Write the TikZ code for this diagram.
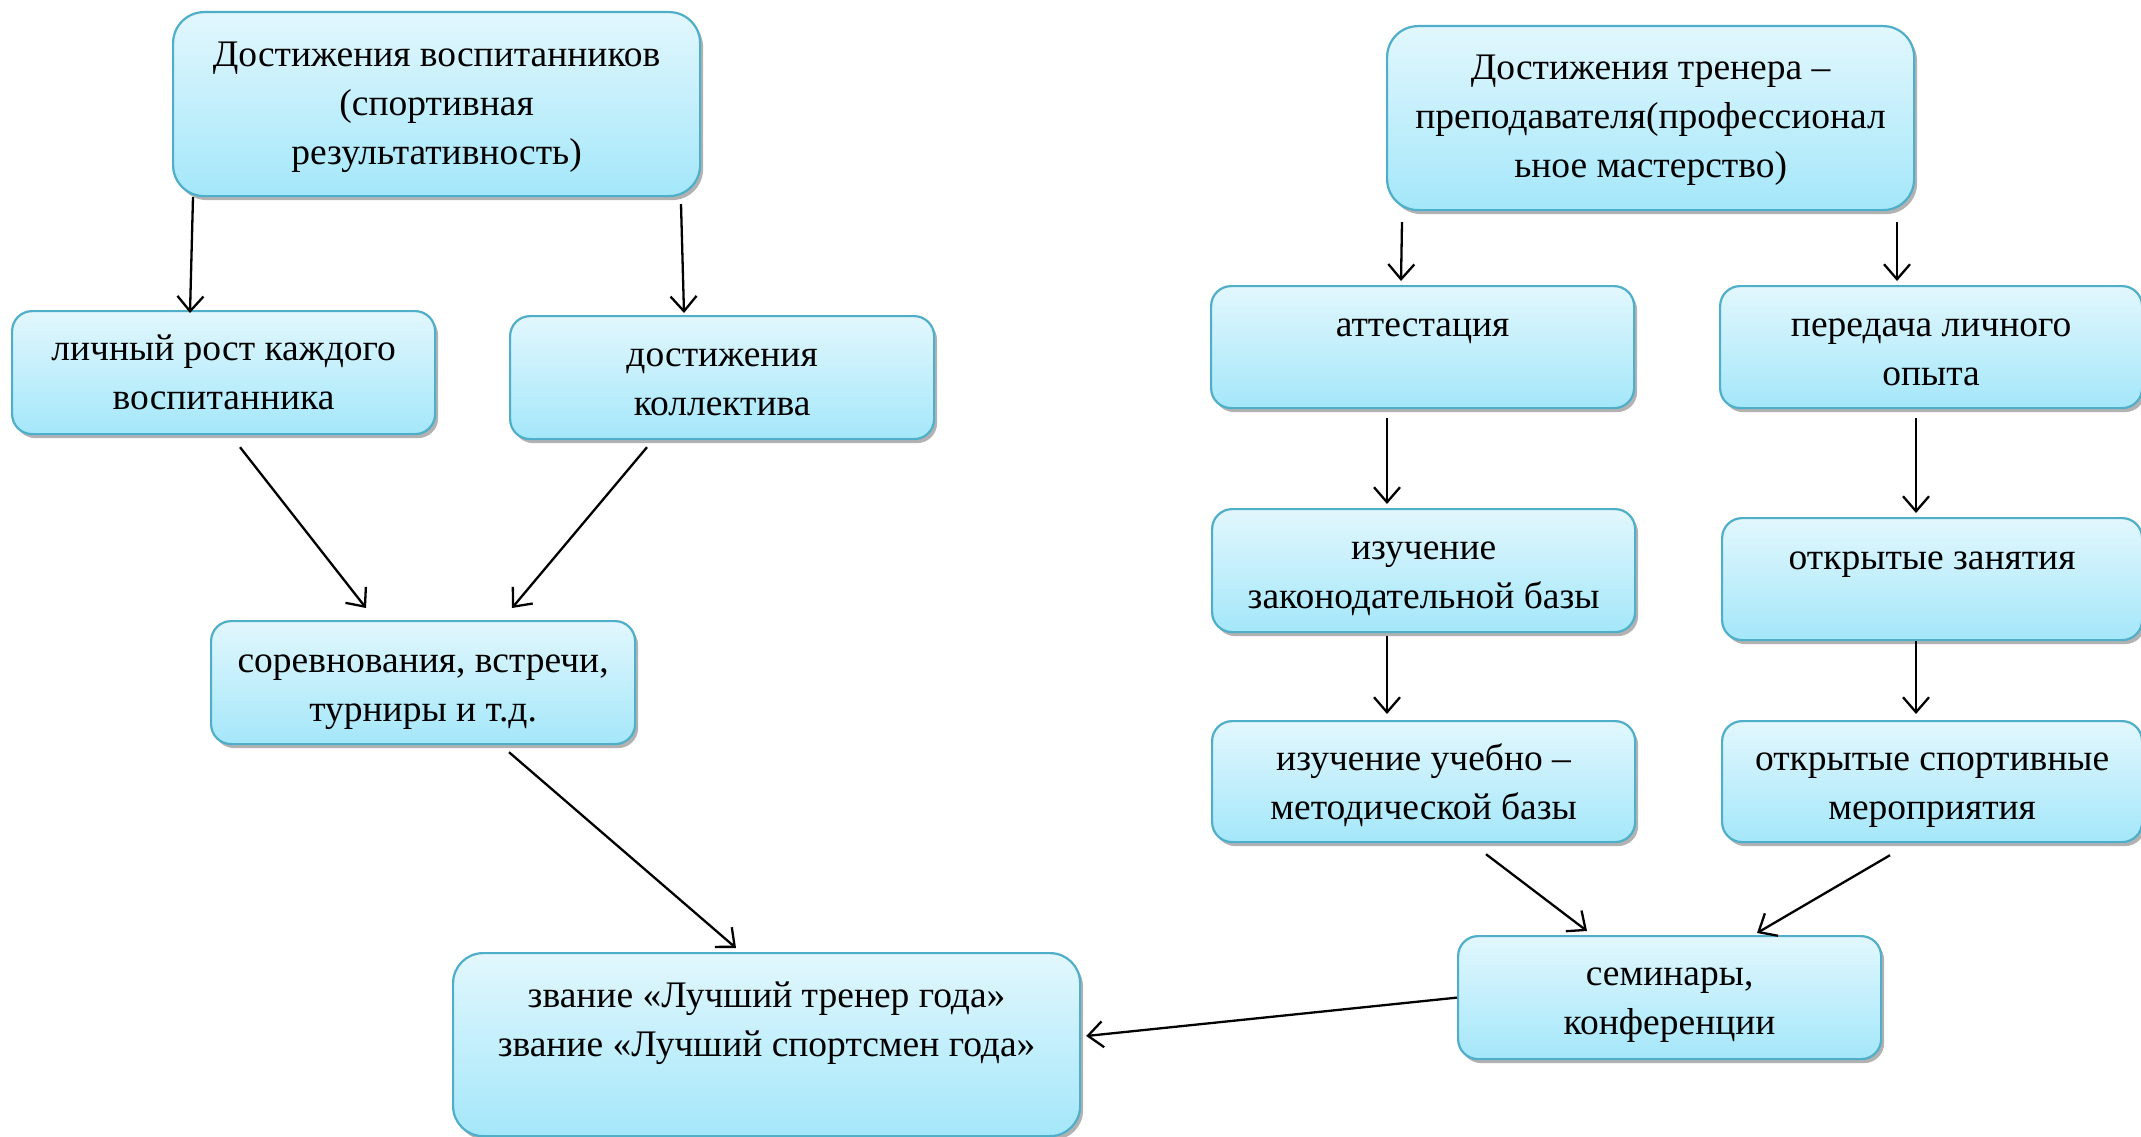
\documentclass[tikz,border=0pt]{standalone}
\usepackage{fontspec}
\setmainfont{Liberation Serif}
\usetikzlibrary{arrows.meta,shadows,calc}
\newcommand\boxtxt[4][50]{\parbox[c][#3pt][t]{#2pt}{\centering\rule{0pt}{#1pt}#4}}
\definecolor{bxtop}{HTML}{E2F7FD}
\definecolor{bxbot}{HTML}{A4E7FA}
\definecolor{bxline}{HTML}{4FAFC8}
\tikzset{
  bx/.style={anchor=north west, inner sep=0pt, draw=bxline, line width=2.2pt,
    rounded corners=#1pt, top color=bxtop, bottom color=bxbot,
    drop shadow={shadow xshift=3pt, shadow yshift=-4pt, fill=black!55, opacity=0.55},
    font=\fontsize{37.5}{49}\selectfont},
  bx/.default=20,
  arr/.style={line width=2.3pt, -{Straight Barb[length=15pt,width=26pt]}}
}
\begin{document}
\begin{tikzpicture}[x=1pt,y=-1pt]
\useasboundingbox[fill=white] (0,0) rectangle (2141,1137);
% left side
\node[bx=31] (A) at (172,11) {\boxtxt[54]{527}{184}{Достижения воспитанников\\(спортивная\\результативность)}};
\node[bx] (B) at (11,310) {\boxtxt[49]{423}{123}{личный рост каждого\\воспитанника}};
\node[bx] (C) at (509,315) {\boxtxt{424}{123}{достижения\\коллектива}};
\node[bx] (D) at (210,620) {\boxtxt[51]{424}{123}{соревнования, встречи,\\турниры и т.д.}};
\node[bx=30] (E) at (452,952) {\boxtxt[54]{627}{183}{звание «Лучший тренер года»\\звание «Лучший спортсмен года»}};
% right side
\node[bx=31] (F) at (1386,25) {\boxtxt[53]{527}{184}{Достижения тренера –\\преподавателя(профессионал\\ьное мастерство)}};
\node[bx] (G) at (1210,285) {\boxtxt{423}{122}{аттестация}};
\node[bx] (H) at (1719,285) {\boxtxt{422}{122}{передача личного\\опыта}};
\node[bx] (I) at (1211,508) {\boxtxt{423}{123}{изучение\\законодательной базы}};
\node[bx] (J) at (1721,517) {\boxtxt[51]{420}{122}{открытые занятия}};
\node[bx] (K) at (1211,720) {\boxtxt[49]{423}{121}{изучение учебно –\\методической базы}};
\node[bx] (L) at (1721,720) {\boxtxt[49]{420}{121}{открытые спортивные\\мероприятия}};
\node[bx] (M) at (1457,935) {\boxtxt[49]{423}{123}{семинары,\\конференции}};
% connectors
\draw[arr] ($(A.south west)+(21,0)$) -- ($(B.north west)+(179,3)$);
\draw[arr] ($(A.south west)+(509,7)$) -- ($(C.north west)+(175,-2)$);
\draw[arr] ($(B.south west)+(229,12)$) -- ($(D.north west)+(156,-12)$);
\draw[arr] ($(C.south west)+(138,7)$) -- ($(D.north west)+(302,-12)$);
\draw[arr] ($(D.south west)+(299,7)$) -- ($(E.north west)+(284,-4)$);
\draw[arr] ($(F.south west)+(16,11)$) -- ($(G.north west)+(191,-4)$);
\draw[arr] ($(F.south west)+(511,11)$) -- ($(H.north west)+(178,-4)$);
\draw[arr] ($(G.south west)+(177,9)$) -- ($(I.north west)+(176,-4)$);
\draw[arr] ($(H.south west)+(197,9)$) -- ($(J.north west)+(195,-4)$);
\draw[arr] ($(I.south west)+(176,3)$) -- ($(K.north west)+(176,-6)$);
\draw[arr] ($(J.south west)+(195,0)$) -- ($(L.north west)+(195,-6)$);
\draw[arr] ($(K.south west)+(275,11)$) -- ($(M.north west)+(130,-4)$);
\draw[arr] ($(L.south west)+(169,12)$) -- ($(M.north west)+(300,-2)$);
\draw[arr] (M.west) -- ($(E.north east)+(5,84)$);
\end{tikzpicture}
\end{document}
